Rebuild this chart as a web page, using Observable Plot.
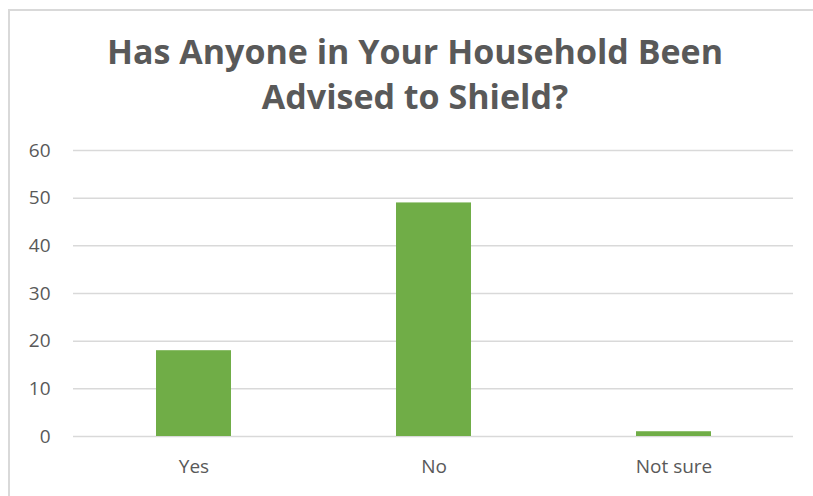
<!DOCTYPE html>
<html>
<head>
<meta charset="utf-8">
<script src="https://cdn.jsdelivr.net/npm/d3@7"></script>
<script src="https://cdn.jsdelivr.net/npm/@observablehq/plot@0.6"></script>
<style>
  html, body { margin: 0; padding: 0; background: #fff; }
  #wrap { position: relative; width: 813px; height: 496px; overflow: hidden; background: #fff; }
  #frame { position: absolute; left: 8px; top: 9px; width: 900px; height: 600px;
           border-top: 2px solid #d9d9d9; border-left: 2px solid #d9d9d9; }
  #title { position: absolute; left: 0; top: 29px; width: 830px; text-align: center;
           font-family: "Open Sans", sans-serif; font-weight: 700; font-size: 34px;
           line-height: 45px; color: #595959; }
  #chart { position: absolute; left: 0; top: 130px; }
</style>
</head>
<body>
<div id="wrap">
  <div id="frame"></div>
  <div id="title">Has Anyone in Your Household Been<br>Advised to Shield?</div>
  <div id="chart"></div>
</div>
<script>
const categories = ["Yes", "No", "Not sure"];
const values = [18, 49, 1];
const yTicks = [0, 10, 20, 30, 40, 50, 60];

const data = categories.map((c, i) => ({ cat: c, val: values[i] }));

const chart = Plot.plot({
  width: 813,
  height: 366,
  marginTop: 20,
  marginBottom: 60,
  marginLeft: 73,
  marginRight: 20,
  style: { fontFamily: "Open Sans, sans-serif", fontSize: "19px", color: "#595959", background: "transparent" },
  x: { domain: categories, paddingInner: 0.6875, paddingOuter: 0.34375, label: null },
  y: { domain: [0, 60], label: null },
  marks: [
    Plot.gridY(yTicks, { stroke: "#d9d9d9", strokeOpacity: 1, strokeWidth: 1.5 }),
    Plot.barY(data, { x: "cat", y: "val", fill: "#70AD47" }),
    Plot.axisY(yTicks, { tickSize: 0, tickPadding: 23, label: null, fill: "#595959" }),
    Plot.axisX({ tickSize: 0, tickPadding: 23, label: null, fill: "#595959" })
  ]
});
document.getElementById("chart").appendChild(chart);
</script>
</body>
</html>
